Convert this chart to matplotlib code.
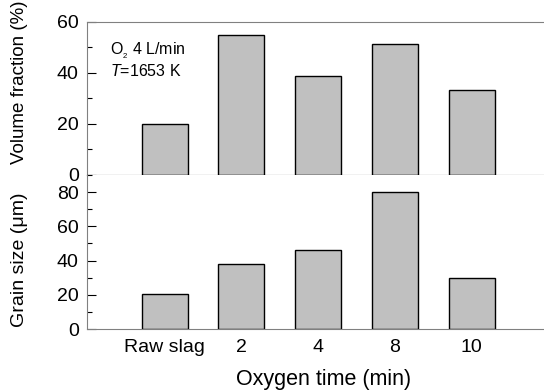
import numpy as np
import matplotlib
matplotlib.use('Agg')
import matplotlib.pyplot as plt
from matplotlib.ticker import MultipleLocator

plt.rcParams['font.family'] = ['Liberation Sans', 'DejaVu Sans']
plt.rcParams['mathtext.fontset'] = 'custom'
plt.rcParams['mathtext.rm'] = 'Liberation Sans'
plt.rcParams['mathtext.it'] = 'Liberation Sans:italic'

categories = ['Raw slag', '2', '4', '8', '10']
volume_fraction = [20, 55, 38.7, 51.5, 33.2]
grain_size = [20.3, 38, 46, 80, 30]

x = np.arange(len(categories))
bar_color = '#c0c0c0'
grey = '#808080'

fig = plt.figure(figsize=(5.44, 3.90), dpi=100)
ax1 = fig.add_axes([0.16, 0.5513, 0.84, 0.3923])
ax2 = fig.add_axes([0.16, 0.1564, 0.84, 0.3949])

for ax in (ax1, ax2):
    ax.set_xlim(-1.01, 4.94)
    ax.spines['right'].set_visible(False)
    ax.spines['left'].set_color(grey)
    ax.tick_params(axis='y', direction='in', length=6.5, width=0.8,
                   labelsize=14, pad=6, color='black')
    ax.tick_params(axis='y', which='minor', direction='in', length=3.6, width=0.8)
    ax.tick_params(axis='x', length=0, labelsize=14, pad=7)

ax1.bar(x, volume_fraction, width=0.6, color=bar_color, edgecolor='black', linewidth=1)
ax1.set_ylim(0, 60)
ax1.yaxis.set_major_locator(MultipleLocator(20))
ax1.yaxis.set_minor_locator(MultipleLocator(10))
ax1.spines['top'].set_color(grey)
ax1.spines['bottom'].set_color('black')
ax1.set_xticks([])
ax1.text(0.05, 0.79, r'O$_{_2}$ 4 L/min', transform=ax1.transAxes, fontsize=11.5)
ax1.text(0.05, 0.65, r'$T$=1653 K', transform=ax1.transAxes, fontsize=11.5)

ax2.bar(x, grain_size, width=0.6, color=bar_color, edgecolor='black', linewidth=1)
ax2.set_ylim(0, 90)
ax2.yaxis.set_major_locator(MultipleLocator(20))
ax2.yaxis.set_minor_locator(MultipleLocator(10))
ax2.spines['top'].set_visible(False)
ax2.spines['bottom'].set_color(grey)
ax2.set_xticks(x)
ax2.set_xticklabels(categories)

fig.text(0.036, 0.788, 'Volume fraction (%)', rotation=90, ha='center', va='center', fontsize=13.5)
fig.text(0.036, 0.335, 'Grain size (\u03bcm)', rotation=90, ha='center', va='center', fontsize=14)
fig.text(0.594, 0.026, 'Oxygen time (min)', ha='center', va='center', fontsize=15.5)

fig.savefig('out.png', dpi=100)
